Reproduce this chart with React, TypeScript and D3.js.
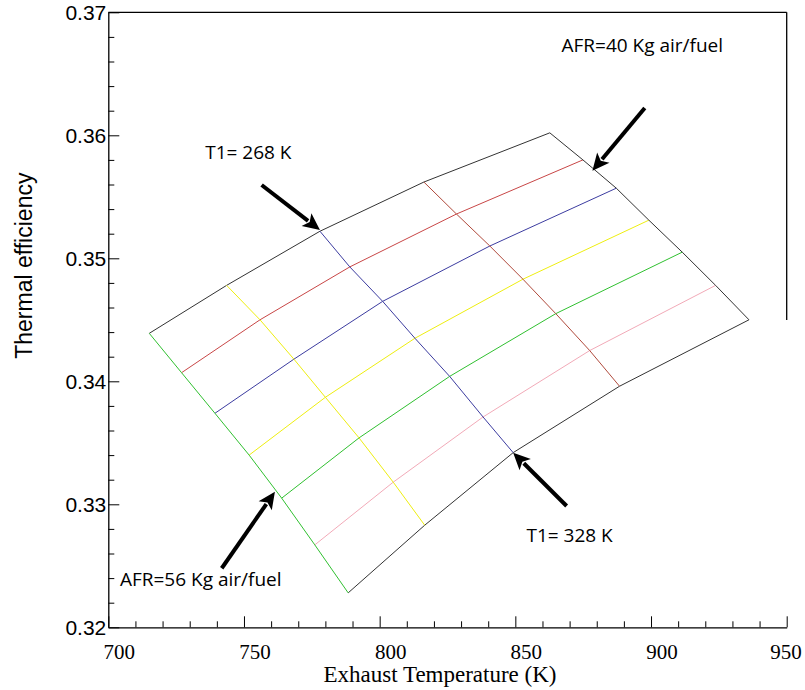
import React, { useEffect, useRef } from "react";
import { select, scaleLinear, line, range, axisLeft, axisBottom } from "d3";

// carpet grid: rows = T1 lines, columns = AFR lines
const t1Values = [268, 278, 288, 298, 308, 318, 328];
const afrValues = [56, 52, 48, 44, 40];

const exhaustTemp = [
  [715.1, 743.6, 778.0, 816.3, 862.7],
  [727.0, 755.9, 789.0, 828.3, 874.9],
  [739.3, 768.4, 801.1, 840.6, 887.2],
  [751.9, 780.0, 813.0, 852.8, 899.2],
  [763.9, 792.4, 825.8, 864.9, 911.5],
  [776.1, 805.0, 838.1, 877.4, 923.8],
  [788.4, 816.6, 849.2, 888.4, 936.1],
];

const thermalEff = [
  [0.3439, 0.3478, 0.3522, 0.3562, 0.3602],
  [0.3407, 0.3450, 0.3493, 0.3536, 0.3580],
  [0.3374, 0.3418, 0.3465, 0.3510, 0.3557],
  [0.3340, 0.3387, 0.3435, 0.3483, 0.3531],
  [0.3305, 0.3354, 0.3404, 0.3455, 0.3505],
  [0.3267, 0.3318, 0.3371, 0.3425, 0.3478],
  [0.3228, 0.3283, 0.3342, 0.3396, 0.3450],
];

const t1Colors = ["#333", "#c84646", "#3c3ca0", "#eeee10", "#30c030", "#f2aab8", "#333"];
const afrColors = ["#30c030", "#eeee10", "#3c3ca0", "#b04a3c", "#333"];

const xTicks = [700, 750, 800, 850, 900, 950];
const yTicks = [0.32, 0.33, 0.34, 0.35, 0.36, 0.37];

// annotations: text anchor + arrow tail/tip in data units
const notes = [
  { label: "T1= 268 K", tx: 735.7, ty: 0.35807, from: [756.5, 0.35596], to: [778.0, 0.3523] },
  { label: "AFR=40 Kg air/fuel", tx: 867.0, ty: 0.36677, from: [897.7, 0.36222], to: [878.4, 0.35712] },
  { label: "AFR=56 Kg air/fuel", tx: 704.3, ty: 0.32337, from: [741.8, 0.3248], to: [761.4, 0.33102] },
  { label: "T1= 328 K", tx: 854.1, ty: 0.32694, from: [868.9, 0.32986], to: [849.2, 0.3342] },
];

function App() {
  const svgRef = useRef(null);

  useEffect(() => {
    const svg = select(svgRef.current);
    svg.selectAll("*").remove();

    const left = 108.3, right = 786.7, top = 12.3, bottom = 627.3;
    const x = scaleLinear().domain([700, 950]).range([left, right]);
    const y = scaleLinear().domain([0.32, 0.37]).range([bottom, top]);

    // frame: top line and the short right line
    svg.append("line").attr("x1", left).attr("x2", right).attr("y1", top).attr("y2", top)
      .attr("stroke", "#000").attr("stroke-width", 1.3);
    svg.append("line").attr("x1", right).attr("x2", right).attr("y1", top).attr("y2", 320)
      .attr("stroke", "#000").attr("stroke-width", 1.3);

    // y axis
    const yMinor = range(0.32, 0.3701, 0.002).filter(v => Math.abs(Math.round(v * 100) - v * 100) > 1e-6);
    svg.append("g").attr("transform", `translate(${left},0)`)
      .call(axisLeft(y).tickValues(yMinor).tickSize(-6).tickSizeOuter(0).tickFormat(() => ""))
      .call(g => g.select(".domain").remove());
    svg.append("g").attr("transform", `translate(${left},0)`)
      .call(axisLeft(y).tickValues(yTicks).tickSize(-11).tickSizeOuter(0).tickPadding(2)
        .tickFormat(d => d.toFixed(2)))
      .call(g => g.select(".domain").attr("stroke-width", 1.3))
      .call(g => g.selectAll("text").attr("font-family", "'Liberation Sans', Arial, sans-serif")
        .attr("font-size", 21).attr("fill", "#000"));

    // x axis
    const xMinor = range(700, 951, 10).filter(v => v % 50 !== 0);
    svg.append("g").attr("transform", `translate(0,${bottom})`)
      .call(axisBottom(x).tickValues(xMinor).tickSize(-6).tickSizeOuter(0).tickFormat(() => ""))
      .call(g => g.select(".domain").remove());
    svg.append("g").attr("transform", `translate(0,${bottom})`)
      .call(axisBottom(x).tickValues(xTicks).tickSize(-11).tickSizeOuter(0).tickFormat(() => ""))
      .call(g => g.select(".domain").attr("stroke-width", 1.3));

    svg.selectAll(".xlabel")
      .data(xTicks)
      .join("text")
      .attr("class", "xlabel")
      .attr("x", d => Math.min(x(d) + 11, 786))
      .attr("y", 659)
      .attr("text-anchor", "middle")
      .attr("font-family", "'Liberation Serif', 'Times New Roman', serif")
      .attr("font-size", 21)
      .text(d => d);

    svg.append("text")
      .attr("x", 440).attr("y", 682)
      .attr("text-anchor", "middle")
      .attr("font-family", "'Liberation Serif', 'Times New Roman', serif")
      .attr("font-size", 23)
      .text("Exhaust Temperature (K)");

    svg.append("text")
      .attr("transform", `translate(32,${y(0.3494)}) rotate(-90)`)
      .attr("text-anchor", "middle")
      .attr("font-family", "'Liberation Sans', Arial, sans-serif")
      .attr("font-size", 23)
      .text("Thermal efficiency");

    // carpet lines
    const path = line().x(d => x(d[0])).y(d => y(d[1]));

    svg.selectAll(".t1line")
      .data(t1Values.map((t, i) => afrValues.map((a, j) => [exhaustTemp[i][j], thermalEff[i][j]])))
      .join("path")
      .attr("class", "t1line")
      .attr("d", path)
      .attr("fill", "none")
      .attr("stroke", (d, i) => t1Colors[i])
      .attr("stroke-width", 1);

    svg.selectAll(".afrline")
      .data(afrValues.map((a, j) => t1Values.map((t, i) => [exhaustTemp[i][j], thermalEff[i][j]])))
      .join("path")
      .attr("class", "afrline")
      .attr("d", path)
      .attr("fill", "none")
      .attr("stroke", (d, j) => afrColors[j])
      .attr("stroke-width", 1);

    // annotations
    const headLen = 17, headHalf = 8;
    notes.forEach(n => {
      const x0 = x(n.from[0]), y0 = y(n.from[1]);
      const x1 = x(n.to[0]), y1 = y(n.to[1]);
      const len = Math.hypot(x1 - x0, y1 - y0);
      const ux = (x1 - x0) / len, uy = (y1 - y0) / len;
      const bx = x1 - ux * headLen, by = y1 - uy * headLen;
      svg.append("line")
        .attr("x1", x0).attr("y1", y0).attr("x2", bx + ux * 2).attr("y2", by + uy * 2)
        .attr("stroke", "#000").attr("stroke-width", 4);
      svg.append("polygon")
        .attr("points", [
          [x1, y1],
          [bx - uy * headHalf, by + ux * headHalf],
          [bx + ux * 4, by + uy * 4],
          [bx + uy * headHalf, by - ux * headHalf],
        ].map(p => p.join(",")).join(" "))
        .attr("fill", "#000");
      svg.append("text")
        .attr("x", x(n.tx)).attr("y", y(n.ty))
        .attr("font-family", "'Open Sans', 'Noto Sans', sans-serif")
        .attr("font-size", 19)
        .text(n.label);
    });
  }, []);

  return (
    <svg
      ref={svgRef}
      width={805}
      height={690}
      style={{ position: "absolute", left: 0, top: 0, background: "#fff" }}
    />
  );
}

export default App;
